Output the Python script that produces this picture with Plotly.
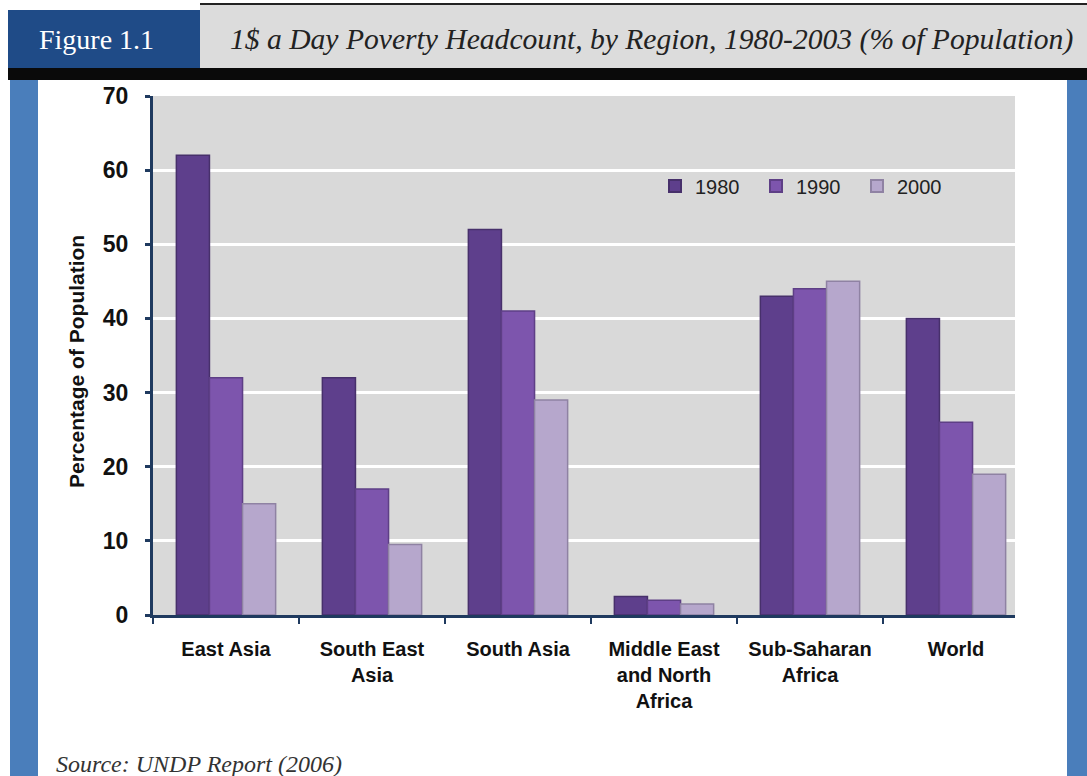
import plotly.graph_objects as go

regions = ["East Asia", "South East<br>Asia", "South Asia",
           "Middle East<br>and North<br>Africa", "Sub-Saharan<br>Africa", "World"]
years = ["1980", "1990", "2000"]
v1980 = [62, 32, 52, 2.5, 43, 40]
v1990 = [32, 17, 41, 2.0, 44, 26]
v2000 = [15, 9.5, 29, 1.5, 45, 19]
series = [v1980, v1990, v2000]
colors = ["#5e3f8c", "#7d55ad", "#b6a7cc"]
edges = ["#47306b", "#5e3f86", "#8f82a3"]
yticks = [0, 10, 20, 30, 40, 50, 60, 70]

W_PAGE, H_PAGE = 1087, 776
L, R, T, B = 153, 1015, 96, 615
PW, PH = R - L, B - T


def fx(px):
    return (px - L) / PW


def fy(py):
    return (B - py) / PH


fig = go.Figure()
for yr, vals, c, e in zip(years, series, colors, edges):
    fig.add_trace(go.Bar(x=regions, y=vals, name=yr,
                         marker=dict(color=c, line=dict(color=e, width=1.5))))

cat_w = 146.0
x_end = -0.5 + PW / cat_w

fig.update_layout(
    width=W_PAGE, height=H_PAGE,
    margin=dict(l=L, r=W_PAGE - R, t=T, b=H_PAGE - B, pad=0, autoexpand=False),
    paper_bgcolor="white",
    plot_bgcolor="#d9d9d9",
    barmode="group", bargap=0.32, bargroupgap=0,
    font=dict(family="Liberation Sans, Arial", color="#111"),
    legend=dict(orientation="h", x=fx(655), y=fy(186), xanchor="left", yanchor="middle",
                bgcolor="rgba(0,0,0,0)", font=dict(size=20, color="#222"),
                itemsizing="constant", entrywidth=56, traceorder="normal"),
    xaxis=dict(range=[-0.5, x_end], showgrid=False, tickson="boundaries",
               ticks="outside", ticklen=6, tickwidth=2, tickcolor="#1f3a5f",
               showline=True, linecolor="#1f3a5f", linewidth=3,
               ticklabelstandoff=14,
               tickfont=dict(size=20, weight="bold", color="#111"), tickangle=0),
    yaxis=dict(range=[0, 70], tickvals=yticks, showgrid=True, gridcolor="white", gridwidth=3,
               ticks="outside", ticklen=5, tickwidth=3, tickcolor="#1f3a5f",
               showline=True, linecolor="#1f3a5f", linewidth=3, zeroline=False,
               ticklabelstandoff=12,
               tickfont=dict(size=23, weight="bold", color="#111")),
)

shapes = []
shapes.append(dict(type="rect", xref="paper", yref="paper", x0=fx(10), x1=fx(38), y0=fy(80), y1=fy(776),
                   fillcolor="#4a7ebb", line=dict(width=0), layer="below"))
shapes.append(dict(type="rect", xref="paper", yref="paper", x0=fx(1067), x1=fx(1087), y0=fy(80), y1=fy(776),
                   fillcolor="#4a7ebb", line=dict(width=0), layer="below"))
shapes.append(dict(type="rect", xref="paper", yref="paper", x0=fx(200), x1=fx(1087), y0=fy(68), y1=fy(4),
                   fillcolor="#dcdcdc", line=dict(width=0), layer="below"))
shapes.append(dict(type="line", xref="paper", yref="paper", x0=fx(200), x1=fx(1087), y0=fy(4), y1=fy(4),
                   line=dict(color="#222", width=2), layer="below"))
shapes.append(dict(type="rect", xref="paper", yref="paper", x0=fx(8), x1=fx(200), y0=fy(68), y1=fy(10),
                   fillcolor="#1f4b87", line=dict(width=0), layer="below"))
shapes.append(dict(type="rect", xref="paper", yref="paper", x0=fx(8), x1=fx(1087), y0=fy(80), y1=fy(68),
                   fillcolor="#0a0a0a", line=dict(width=0), layer="below"))
fig.update_layout(shapes=shapes)

ann = []
ann.append(dict(text="Figure 1.1", xref="paper", yref="paper", x=fx(96), y=fy(40),
                xanchor="center", yanchor="middle", showarrow=False,
                font=dict(family="Liberation Serif, Times New Roman", size=28, color="white")))
ann.append(dict(text="<i>1$ a Day Poverty Headcount, by Region, 1980-2003 (% of Population)</i>",
                xref="paper", yref="paper", x=fx(228), y=fy(40),
                xanchor="left", yanchor="middle", showarrow=False,
                font=dict(family="Liberation Serif, Times New Roman", size=29.6, color="#222")))
ann.append(dict(text="Percentage of Population", xref="paper", yref="paper", x=fx(76), y=fy(362),
                xanchor="center", yanchor="middle", showarrow=False, textangle=-90,
                font=dict(size=21, weight="bold", color="#111")))
ann.append(dict(text="<i>Source: UNDP Report (2006)</i>", xref="paper", yref="paper", x=fx(54), y=fy(764),
                xanchor="left", yanchor="middle", showarrow=False,
                font=dict(family="Liberation Serif, Times New Roman", size=24, color="#333")))
fig.update_layout(annotations=ann)

fig.write_html("out.html")
